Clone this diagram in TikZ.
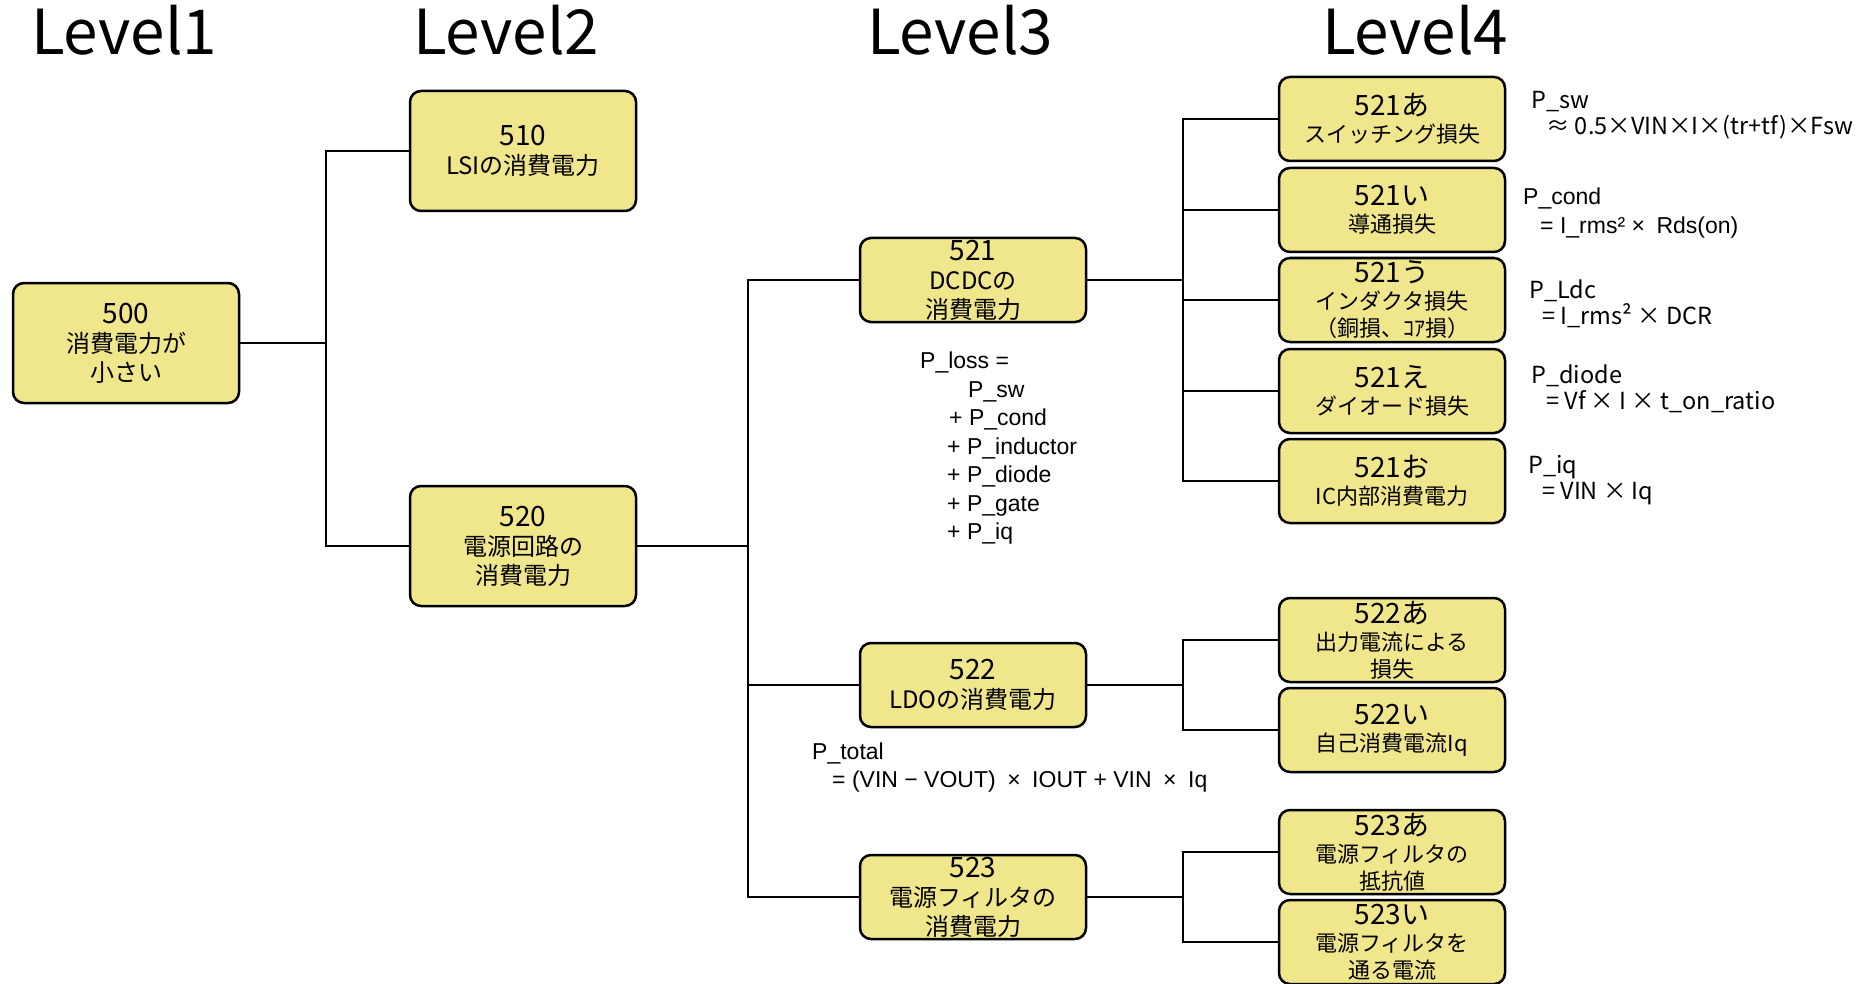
\documentclass[tikz,border=0pt]{standalone}
\usepackage{fontspec}
\setmainfont{Noto Sans CJK JP}
\newfontfamily\arialfont{Liberation Sans}
\definecolor{khaki}{HTML}{F0E68C}
\newcommand\boxno[1]{{\fontsize{28}{29}\selectfont #1}\\}

\begin{document}
\begin{tikzpicture}[x=1pt, y=-1pt,
    box/.style={draw=black, line width=2.5pt, fill=khaki, rounded corners=11pt, align=center,
      inner sep=0pt, minimum width=226pt, font=\fontsize{24}{29}\selectfont},
    tallbox/.style={box, minimum height=120pt},
    flatbox/.style={box, minimum height=84pt},
    leafbox/.style={flatbox, font=\fontsize{22}{27}\selectfont},
    link/.style={line width=2pt},
    level/.style={anchor=base, font=\fontsize{62}{62}\selectfont},
    formula/.style={anchor=north west, align=left, inner sep=0pt, font=\fontsize{23.5}{26}\selectfont},
    sumtext/.style={formula, font=\arialfont\fontsize{23}{28.5}\selectfont}]
    \useasboundingbox (0,0) rectangle (1867,984);

    % levels
    \node[level] (lv1) at (124,55) {Level1};
    \node[level] (lv2) at (506,55) {Level2};
    \node[level] (lv3) at (960,55) {Level3};
    \node[level] (lv4) at (1415,55) {Level4};

    % level 1 - 2
    \node[tallbox] (n500) at (126,343) {\boxno{500}消費電力が\\小さい};
    \node[tallbox] (n510) at (523,151) {\boxno{510}LSIの消費電力};
    \node[tallbox] (n520) at (523,546) {\boxno{520}電源回路の\\消費電力};

    % level 3
    \node[flatbox] (n521) at (973,280) {\boxno{521}DCDCの\\消費電力};
    \node[flatbox] (n522) at (973,685) {\boxno{522}LDOの消費電力};
    \node[flatbox] (n523) at (973,897) {\boxno{523}電源フィルタの\\消費電力};

    % level 4
    \node[leafbox] (n521a) at (1392,119) {\boxno{521あ}スイッチング損失};
    \node[leafbox] (n521i) at (1392,210) {\boxno{521い}導通損失};
    \node[leafbox] (n521u) at (1392,300) {\boxno{521う}インダクタ損失\\（銅損、ｺｱ損）};
    \node[leafbox] (n521e) at (1392,391) {\boxno{521え}ダイオード損失};
    \node[leafbox] (n521o) at (1392,481) {\boxno{521お}IC内部消費電力};
    \node[leafbox] (n522a) at (1392,640) {\boxno{522あ}出力電流による\\損失};
    \node[leafbox] (n522i) at (1392,730) {\boxno{522い}自己消費電流Iq};
    \node[leafbox] (n523a) at (1392,852) {\boxno{523あ}電源フィルタの\\抵抗値};
    \node[leafbox] (n523i) at (1392,942) {\boxno{523い}電源フィルタを\\通る電流};

    % connectors
    \coordinate (j1) at (326,343);
    \draw[link] (n500.east) -- (j1);
    \draw[link] (j1) |- (n510.west);
    \draw[link] (j1) |- (n520.west);

    \coordinate (j2) at (748,546);
    \draw[link] (n520.east) -- (j2);
    \draw[link] (j2) |- (n521.west);
    \draw[link] (j2) |- (n522.west);
    \draw[link] (j2) |- (n523.west);

    \coordinate (j3) at (1183,280);
    \draw[link] (n521.east) -- (j3);
    \draw[link] (j3) |- (n521a.west);
    \draw[link] (j3) |- (n521i.west);
    \draw[link] (j3) |- (n521u.west);
    \draw[link] (j3) |- (n521e.west);
    \draw[link] (j3) |- (n521o.west);

    \coordinate (j4) at (1183,685);
    \draw[link] (n522.east) -- (j4);
    \draw[link] (j4) |- (n522a.west);
    \draw[link] (j4) |- (n522i.west);

    \coordinate (j5) at (1183,897);
    \draw[link] (n523.east) -- (j5);
    \draw[link] (j5) |- (n523a.west);
    \draw[link] (j5) |- (n523i.west);

    % formulas
    \node[formula] (fsw) at (1531,91) {P\_sw\\\hspace*{15pt}≈ 0.5×VIN×I×(tr+tf)×Fsw};
    \node[sumtext] (fcond) at (1523,188) {P\_cond\\\hspace*{17pt}= I\_rms² ×\enspace Rds(on)};
    \node[formula] (fldc) at (1529,280) {P\_Ldc\\\hspace*{13pt}= I\_rms² × DCR};
    \node[formula] (fdiode) at (1531,365) {P\_diode\\\hspace*{15pt}= Vf × I × t\_on\_ratio};
    \node[formula] (fiq) at (1528,455) {P\_iq\\\hspace*{14pt}= VIN × Iq};
    \node[sumtext] (floss) at (920,352) {P\_loss =\\\hspace*{48pt}P\_sw\\\hspace*{29pt}+ P\_cond\\\hspace*{27pt}+ P\_inductor\\\hspace*{27pt}+ P\_diode\\\hspace*{27pt}+ P\_gate\\\hspace*{27pt}+ P\_iq};
    \node[sumtext, font=\arialfont\fontsize{23}{28}\selectfont] (ftotal) at (812,743) {P\_total\\\hspace*{20pt}= (VIN − VOUT)\enspace ×\enspace IOUT + VIN\enspace ×\enspace Iq};
\end{tikzpicture}
\end{document}
